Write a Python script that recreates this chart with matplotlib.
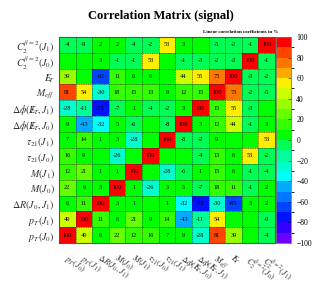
import matplotlib
matplotlib.use("Agg")
import matplotlib.pyplot as plt
import numpy as np
from matplotlib.colors import ListedColormap, BoundaryNorm

# variable order: row 0 is drawn at the bottom, column 0 at the left
variables = [
    r"$p_{T}(J_{0})$", r"$p_{T}(J_{1})$", r"$\Delta R(J_{0},J_{1})$",
    r"$M(J_{0})$", r"$M(J_{1})$", r"$\tau_{21}(J_{0})$", r"$\tau_{21}(J_{1})$",
    r"$\Delta\phi(E\!\!\!\!/_{T},J_{0})$", r"$\Delta\phi(E\!\!\!\!/_{T},J_{1})$",
    r"$M_{eff}$", r"$E\!\!\!\!/_{T}$",
    r"$C_{2}^{\beta=2}(J_{0})$", r"$C_{2}^{\beta=2}(J_{1})$",
]

# linear correlation coefficients in %, one list per variable (0 = not printed)
corr_pt_j0   = [100, 49, 6, 22, 12, 16, 7, 9, -28, 81, 39, 0, -4]
corr_pt_j1   = [49, 100, 11, 6, 21, 9, 14, -43, -11, 54, 0, 0, -9]
corr_dr      = [6, 11, 100, 3, 1, 0, 1, -32, -73, -30, -65, 3, 2]
corr_m_j0    = [22, 6, 3, 100, 1, -26, 3, 5, -7, 18, 11, -1, 2]
corr_m_j1    = [12, 21, 1, 1, 100, 0, -28, -6, 1, 15, 6, -1, -4]
corr_tau_j0  = [16, 9, 0, -26, 0, 100, 0, 0, -4, 13, 6, 53, -2]
corr_tau_j1  = [7, 14, 1, 3, -28, 0, 100, -8, -2, 9, 0, 0, 53]
corr_dphi_j0 = [9, -43, -32, 5, -6, 0, -8, 100, 3, 12, 44, -1, 3]
corr_dphi_j1 = [-28, -11, -73, -7, 1, -4, -2, 3, 100, 15, 55, -3, 0]
corr_meff    = [81, 54, -30, 18, 15, 13, 9, 12, 15, 100, 73, -2, -5]
corr_met     = [39, 0, -65, 11, 6, 6, 0, 44, 55, 73, 100, -3, -2]
corr_c2_j0   = [0, 0, 3, -1, -1, 53, 0, -1, -3, -2, -3, 100, -1]
corr_c2_j1   = [-4, -9, 2, 2, -4, -2, 53, 3, 0, -5, -2, -1, 100]

corr = np.array([corr_pt_j0, corr_pt_j1, corr_dr, corr_m_j0, corr_m_j1,
                 corr_tau_j0, corr_tau_j1, corr_dphi_j0, corr_dphi_j1,
                 corr_meff, corr_met, corr_c2_j0, corr_c2_j1])

plt.rcParams["font.family"] = ["Liberation Serif", "DejaVu Serif"]
plt.rcParams["mathtext.fontset"] = "stix"

# ROOT-like 20 step palette from -100 to 100
palette = ["#6a00ff", "#3300ff", "#0011ff", "#0044ff", "#0077ff",
           "#00aaff", "#00ffff", "#00ffcc", "#00ff99", "#00ff55",
           "#00ff00", "#33ff00", "#66ff00", "#99ff00", "#ccff00",
           "#ffee00", "#ffaa00", "#ff7700", "#ff4400", "#ff0000"]
cmap = ListedColormap(palette)
bounds = np.arange(-100, 101, 10)
norm = BoundaryNorm(bounds, cmap.N)

fig = plt.figure(figsize=(3.15, 2.86), dpi=100)
ax = fig.add_axes([0.187, 0.150, 0.686, 0.721])
cax = fig.add_axes([0.876, 0.150, 0.047, 0.721])

n = len(variables)
mesh = ax.pcolormesh(np.arange(n + 1), np.arange(n + 1), corr, cmap=cmap, norm=norm)

for i in range(n):
    for j in range(n):
        if corr[i, j] != 0:
            ax.text(j + 0.5, i + 0.5, str(corr[i, j]), ha="center", va="center",
                    fontsize=4.6, color="black")

# dashed cell borders
for k in range(1, n):
    ax.axvline(k, color="#222222", lw=0.4, ls=(0, (2, 1.2)))
    ax.axhline(k, color="#222222", lw=0.4, ls=(0, (2, 1.2)))

ax.set_xlim(0, n)
ax.set_ylim(0, n)
ax.set_yticks(np.arange(n) + 0.5)
ax.set_yticklabels(variables, fontsize=7.2, color="#333333")
ax.set_xticks(np.arange(n) + 0.55)
ax.set_xticklabels(variables, fontsize=6, rotation=-33, ha="left", va="top",
                   rotation_mode="anchor", color="#333333")
ax.tick_params(length=0, pad=3)
ax.tick_params(axis="x", pad=7)
for s in ax.spines.values():
    s.set_linewidth(0.8)
    s.set_color("#555555")

cb = fig.colorbar(mesh, cax=cax, ticks=np.arange(-100, 101, 20))
cb.ax.tick_params(labelsize=5.5, length=2, width=0.4, direction="in", pad=4)
cb.outline.set_linewidth(0.6)
cb.outline.set_edgecolor("#777777")

fig.text(0.51, 0.945, "Correlation Matrix (signal)", ha="center", va="center",
         fontsize=9, fontweight="bold")
fig.text(0.885, 0.888, "Linear correlation coefficients in %", ha="right",
         va="center", fontsize=3.6, fontweight="bold")

fig.savefig("out.png", dpi=100)
